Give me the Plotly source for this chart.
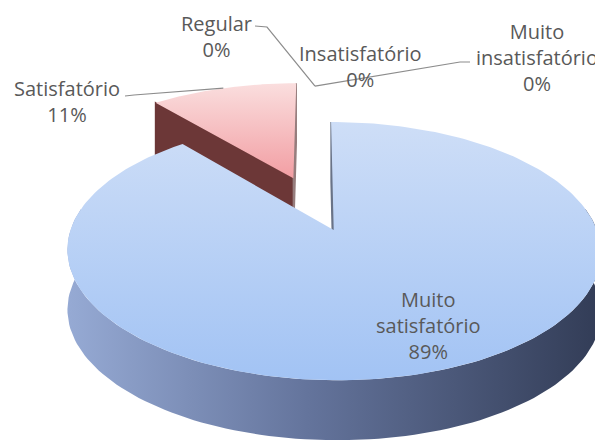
import numpy as np
import plotly.graph_objects as go

# ---------------- data ----------------
categories = ["Muito satisfatório", "Satisfatório", "Regular", "Insatisfatório", "Muito insatisfatório"]
values = [89, 11, 0, 0, 0]

# ---------------- style / layout ----------------
W, H = 603, 440
PAGE_OFF = 8  # default body margin of the html page
CX, CY, A, B, K, DEPTH = 315.0, 206.0, 118.0, 255.0, 0.158, 60.0
explode = {0: 0.21, 1: 0.26}
EXPLODE_DEFAULT = 0.21

top_scales = {
    0: ["rgb(206,222,247)", "rgb(162,195,244)"],
    1: ["rgb(250,222,222)", "rgb(242,158,163)"],
}
side_scale = [[0, "rgb(150,170,212)"], [0.45, "rgb(100,116,156)"], [1, "rgb(50,60,86)"]]
radial_colors = {
    (0, "start"): "rgb(105,115,135)",
    (1, "start"): "rgb(108,55,55)",
    (1, "end"): "rgb(150,125,125)",
}

# label block centers (pixels) and leader waypoints (pixels)
label_pos = {
    0: (428, 325),
    1: (67, 101),
    2: (216, 36),
    3: (360, 66),
    4: (537, 57),
}
leader_start = {
    1: [(125, 96), (134, 95)],
    2: [(255, 26), (267, 27)],
    4: [(470, 62), (460, 62)],
}


def proj(X, Z, down=0.0):
    X = np.asarray(X, dtype=float)
    Z = np.asarray(Z, dtype=float)
    w = 1.0 / (1.0 + K * Z)
    px = CX + B * X * w
    py = CY - A * Z * w + down
    return px, H - py


fig = go.Figure()

total = float(sum(values))
slices = []
cum = 0.0
for i, v in enumerate(values):
    a0 = cum / total * 360.0
    cum += v
    a1 = cum / total * 360.0
    mid = np.radians((a0 + a1) / 2.0)
    e = explode.get(i, EXPLODE_DEFAULT)
    ox, oz = e * np.sin(mid), e * np.cos(mid)
    slices.append(dict(i=i, v=v, a0=a0, a1=a1, ox=ox, oz=oz))


def rim(s, angs, down=0.0):
    r = np.radians(angs)
    return proj(s["ox"] + np.sin(r), s["oz"] + np.cos(r), down)


def add_poly(xs, ys, **kw):
    fig.add_trace(go.Scatter(x=list(xs), y=list(ys), mode="lines", fill="toself",
                             line=dict(width=0), hoverinfo="skip", showlegend=False, **kw))


# draw back slice (pink) first, then front slice (blue)
order = sorted([s for s in slices if s["v"] > 0], key=lambda s: -s["oz"])
for s in order:
    i = s["i"]
    # outer side wall (front facing part)
    lo, hi = max(s["a0"], 80.0), min(s["a1"], 280.0)
    if hi > lo:
        angs = np.linspace(lo, hi, 120)
        tx, ty = rim(s, angs)
        bx, by = rim(s, angs[::-1], DEPTH)
        add_poly(np.concatenate([tx, bx]), np.concatenate([ty, by]),
                 fillcolor="rgb(95,110,150)",
                 fillgradient=dict(type="horizontal", colorscale=side_scale))
    # radial walls
    vx, vy = proj(s["ox"], s["oz"])
    vbx, vby = proj(s["ox"], s["oz"], DEPTH)
    for tag, ang in (("start", s["a0"]), ("end", s["a1"])):
        key = (i, tag)
        if key not in radial_colors:
            continue
        rx, ry = rim(s, np.array([ang]))
        rbx, rby = rim(s, np.array([ang]), DEPTH)
        qx = [float(vx), float(rx[0]), float(rbx[0]), float(vbx)]
        qy = [float(vy), float(ry[0]), float(rby[0]), float(vby)]
        add_poly(qx, qy, fillcolor=radial_colors[key])
        fig.add_trace(go.Scatter(x=qx + [qx[0]], y=qy + [qy[0]],
                                 mode="lines", line=dict(color=radial_colors[key], width=1.5),
                                 hoverinfo="skip", showlegend=False))
    # top face
    angs = np.linspace(s["a0"], s["a1"], 240)
    tx, ty = rim(s, angs)
    xs = np.concatenate([[float(vx)], tx, [float(vx)]])
    ys = np.concatenate([[float(vy)], ty, [float(vy)]])
    add_poly(xs, ys, fillcolor=top_scales[i][0],
             fillgradient=dict(type="vertical",
                               colorscale=[[0, top_scales[i][1]], [1, top_scales[i][0]]]))

# labels and leader lines
for s in slices:
    i = s["i"]
    pct = round(s["v"] / total * 100)
    name = categories[i]
    if name.startswith("Muito "):
        text = "Muito<br>%s<br>%d%%" % (name[len("Muito "):], pct)
    else:
        text = "%s<br>%d%%" % (name, pct)
    lx, ly = label_pos[i]
    fig.add_annotation(x=lx, y=H - ly, xref="x", yref="y", text=text, showarrow=False,
                       font=dict(family="Open Sans", size=20, color="#595959"),
                       align="center", xanchor="center", yanchor="middle")
    if i in leader_start:
        mid = np.radians((s["a0"] + s["a1"]) / 2.0)
        ex, ey = proj(s["ox"] + np.sin(mid), s["oz"] + np.cos(mid))
        pts = leader_start[i]
        fig.add_trace(go.Scatter(x=[p[0] for p in pts] + [float(ex)],
                                 y=[H - p[1] for p in pts] + [float(ey)],
                                 mode="lines", line=dict(color="#8c8c8c", width=1.2),
                                 hoverinfo="skip", showlegend=False))

fig.update_layout(
    width=W, height=H,
    margin=dict(l=0, r=0, t=0, b=0),
    paper_bgcolor="white", plot_bgcolor="white",
    xaxis=dict(range=[PAGE_OFF, W + PAGE_OFF], visible=False, fixedrange=True),
    yaxis=dict(range=[-PAGE_OFF, H - PAGE_OFF], visible=False, fixedrange=True),
    showlegend=False,
)

fig.write_html("out.html")
